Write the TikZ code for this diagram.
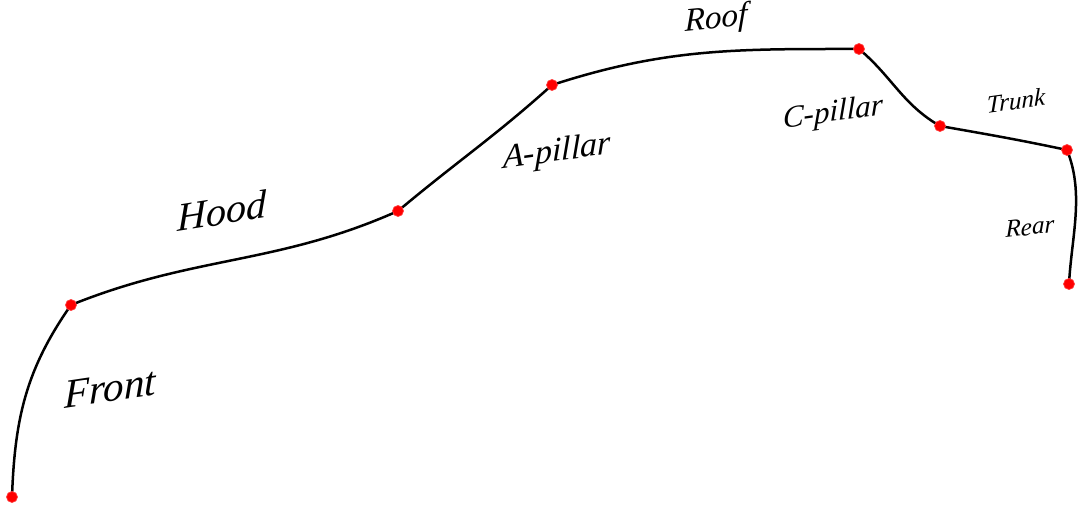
\documentclass[tikz,border=0pt]{standalone}
\usepackage{fontspec}
\setmainfont{Liberation Serif}
\newfontfamily\lblfont{Liberation Serif Italic}
\begin{document}
\begin{tikzpicture}[x=1pt,y=1pt,
  curve/.style={line width=2.5pt,black},
  pt/.style={circle,fill=red,draw=red!75!white,line width=0.7pt,inner sep=0pt,minimum size=11pt},
  lbl/.style={inner sep=0pt}]
\useasboundingbox (0,-511) rectangle (1081,0);
\coordinate (p0) at (12,-497);
\coordinate (p1) at (71,-305);
\coordinate (p2) at (398,-211);
\coordinate (p3) at (552,-85);
\coordinate (p4) at (859,-49);
\coordinate (p5) at (940,-126);
\coordinate (p6) at (1067,-150);
\coordinate (p7) at (1069,-284);
\draw[curve] (p0) to[out=88,in=235] (p1)
  to[out=22,in=204] (p2)
  to[out=40,in=222] (p3)
  to[out=18,in=180] (p4)
  to[out=-40,in=150] (p5)
  to[out=-10,in=168] (p6)
  to[out=-68,in=87,looseness=0.9] (p7);
\foreach \i in {0,...,7} \node[pt] (d\i) at (p\i) {};
\node[lbl,font=\lblfont\fontsize{41}{41}\selectfont,yslant=0.15] (front) at (110,-388) {Front};
\node[lbl,font=\lblfont\fontsize{40}{40}\selectfont,yslant=0.16] (hood) at (222,-211) {Hood};
\node[lbl,font=\lblfont\fontsize{34}{34}\selectfont,yslant=0.14] (apillar) at (557,-153) {A-pillar};
\node[lbl,font=\lblfont\fontsize{33}{33}\selectfont,yslant=0.10] (roof) at (716,-20) {Roof};
\node[lbl,font=\lblfont\fontsize{31}{31}\selectfont,yslant=0.14] (cpillar) at (833,-114) {C-pillar};
\node[lbl,font=\lblfont\fontsize{25}{25}\selectfont,yslant=0.14] (trunk) at (1016,-101) {Trunk};
\node[lbl,font=\lblfont\fontsize{25}{25}\selectfont,yslant=0.12] (rear) at (1030,-227) {Rear};
\end{tikzpicture}
\end{document}
